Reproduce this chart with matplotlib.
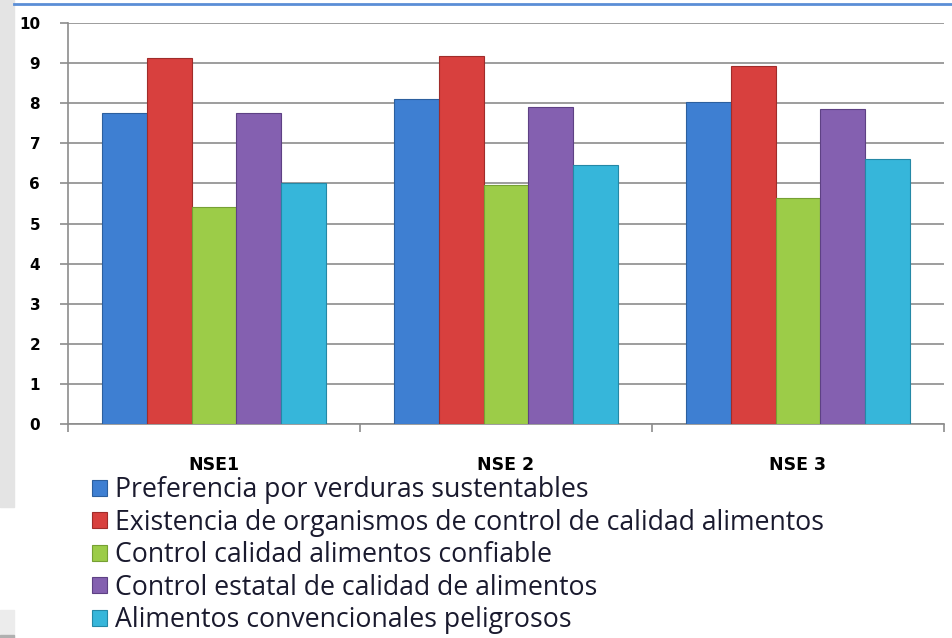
import matplotlib
matplotlib.use("Agg")
import matplotlib.pyplot as plt
from matplotlib.patches import Rectangle
import numpy as np

# data
groups = ["NSE1", "NSE 2", "NSE 3"]
series = [
    "Preferencia por verduras sustentables",
    "Existencia de organismos de control de calidad alimentos",
    "Control calidad alimentos confiable",
    "Control estatal de calidad de alimentos",
    "Alimentos convencionales peligrosos",
]
preferencia = [7.75, 8.1, 8.03]
existencia = [9.12, 9.17, 8.93]
control_calidad = [5.4, 5.95, 5.63]
control_estatal = [7.75, 7.9, 7.86]
convencionales = [6.0, 6.47, 6.6]
values = [preferencia, existencia, control_calidad, control_estatal, convencionales]

colors = ["#3e7fd2", "#d8403e", "#9ccc48", "#8460b0", "#36b6da"]
edges = ["#2c5f9e", "#a02c2a", "#76a034", "#5e4184", "#2488a6"]

fig = plt.figure(figsize=(9.52, 6.38), dpi=100)

# page decorations around the chart
fig.patches.append(Rectangle((0, 1 - 507/638), 14/952, 507/638, transform=fig.transFigure,
                             color="#e4e4e4", zorder=0))
fig.patches.append(Rectangle((0, 0), 14/952, 28/638, transform=fig.transFigure,
                             color="#ececec", zorder=0))
fig.patches.append(Rectangle((0, 0), 14/952, 3/638, transform=fig.transFigure,
                             color="#b0b0b0", zorder=0))
fig.add_artist(plt.Line2D([14/952, 1], [1 - 4/638, 1 - 4/638], transform=fig.transFigure,
                          color="#5b8ed6", lw=2))

ax = fig.add_axes([68/952, 1 - 424/638, 876/952, 401/638])

x = np.arange(len(groups))
w = 0.154
for i, (vals, c, ec) in enumerate(zip(values, colors, edges)):
    ax.bar(x + (i - 2) * w, vals, w, color=c, edgecolor=ec, linewidth=0.8,
           label=series[i], zorder=3)

ax.set_xlim(-0.5, 2.5)
ax.set_ylim(0, 10)
ax.set_yticks(range(0, 11))
ax.yaxis.grid(True, color="#8c8c8c", lw=1.2, zorder=0)
ax.set_axisbelow(True)

for s in ["top", "right"]:
    ax.spines[s].set_visible(False)
for s in ["left", "bottom"]:
    ax.spines[s].set_color("#8c8c8c")
    ax.spines[s].set_linewidth(1.2)

ax.set_xticks([-0.5, 0.5, 1.5, 2.5])
ax.set_xticklabels([])
ax.set_xticks(x, minor=True)
ax.set_xticklabels(groups, minor=True, fontweight="bold", fontsize=12.5)
ax.tick_params(axis="x", which="major", length=6, color="#8c8c8c", width=1.2)
ax.tick_params(axis="x", which="minor", length=0, pad=23)
ax.tick_params(axis="y", length=6, color="#8c8c8c", width=1.2, labelsize=11, pad=14)
for lab in ax.get_yticklabels():
    lab.set_fontweight("bold")

leg = fig.legend(loc="upper left", bbox_to_anchor=(92/952, 1 - 476/638), frameon=False,
                 prop={"family": "Open Sans", "size": 19.2}, handlelength=0.55, handleheight=0.55,
                 handletextpad=0.3, labelspacing=0.17, borderpad=0, borderaxespad=0)
for t in leg.get_texts():
    t.set_color("#1a1a2e")

fig.savefig("out.png", dpi=100)
